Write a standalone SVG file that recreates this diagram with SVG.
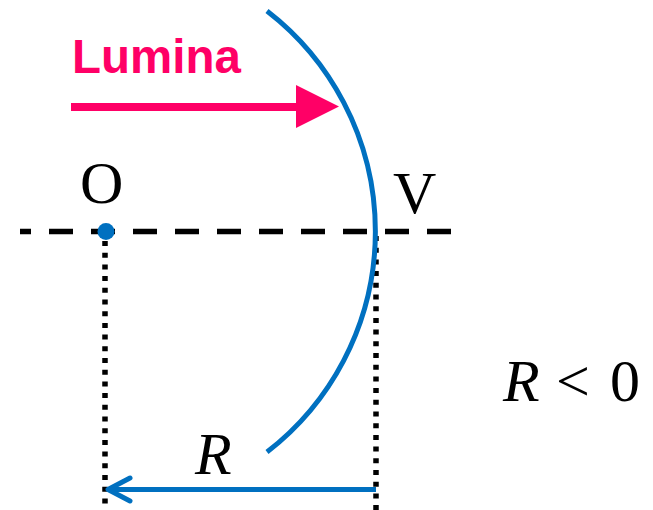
<svg xmlns="http://www.w3.org/2000/svg" width="653" height="510" viewBox="0 0 653 510">
<defs>
<style>
.serif{font-family:"Liberation Serif","Times New Roman",serif;font-size:60px;fill:#000}
.it{font-style:italic}
.dot{stroke:#000;stroke-width:5.5;stroke-dasharray:5 6.7;fill:none}
.blue{stroke:#0070C0;stroke-width:5;fill:none}
</style>
</defs>
<rect width="653" height="510" fill="#fff"/>
<g id="connectors">
<line id="axis" x1="20" y1="231.5" x2="452" y2="231.5" stroke="#000" stroke-width="5.5" stroke-dasharray="24 18" stroke-dashoffset="13"/>
<line id="dotO" class="dot" x1="105" y1="241" x2="105" y2="510"/>
<line id="dotV" class="dot" x1="376" y1="236" x2="376" y2="510"/>
<g id="rarrow">
<line class="blue" x1="376" y1="489.5" x2="110" y2="489.5"/>
<polyline class="blue" points="130,478 108,489.5 130,501" stroke-linecap="round" stroke-linejoin="round"/>
</g>
<g id="light">
<line x1="71" y1="107" x2="300" y2="107" stroke="#FF0066" stroke-width="8"/>
<polygon points="296,85 339,106.5 296,128" fill="#FF0066"/>
</g>
</g>
<g id="mirror">
<path class="blue" d="M267,11 A278.5,278.5 0 0 1 267,452"/>
</g>
<g id="O">
<circle cx="106" cy="231.5" r="8.5" fill="#0070C0"/>
<text class="serif" x="80" y="203">O</text>
</g>
<g id="V">
<text class="serif" x="393" y="213">V</text>
</g>
<g id="lumina">
<text x="72" y="73" font-family="'Liberation Sans',Arial,sans-serif" font-weight="bold" font-size="47.5" fill="#FF0066">Lumina</text>
</g>
<g id="labelR">
<text class="serif it" x="195" y="474">R</text>
</g>
<g id="cond">
<text class="serif" x="503" y="401"><tspan class="it">R</tspan><tspan x="556">&lt;</tspan><tspan x="610">0</tspan></text>
</g>
</svg>
